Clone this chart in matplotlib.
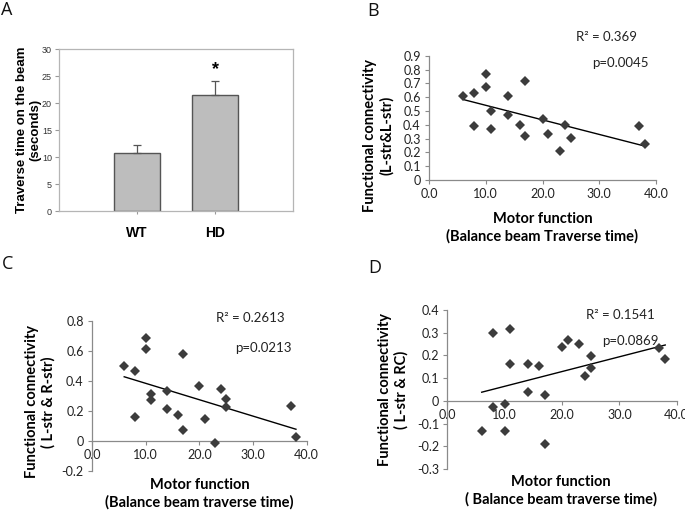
import numpy as np
import matplotlib
matplotlib.use("Agg")
import matplotlib.pyplot as plt
from matplotlib.ticker import FuncFormatter, FixedLocator

# ---------------- data ----------------
groups = ["WT", "HD"]
traverse_mean = [10.8, 21.4]
traverse_err = [1.4, 2.6]

b_x = [6, 8, 8, 10, 10, 11, 11, 14, 14, 16, 17, 17, 20, 21, 23, 24, 25, 37, 38]
b_y = [0.61, 0.63, 0.39, 0.77, 0.67, 0.50, 0.37, 0.61, 0.47, 0.40, 0.72, 0.32,
       0.44, 0.335, 0.21, 0.40, 0.305, 0.39, 0.26]

c_x = [6, 8, 8, 10, 10, 11, 11, 14, 14, 16, 17, 17, 20, 21, 23, 24, 25, 25, 37, 38]
c_y = [0.50, 0.468, 0.159, 0.683, 0.614, 0.31, 0.274, 0.334, 0.212, 0.17, 0.577,
       0.071, 0.367, 0.148, -0.013, 0.343, 0.276, 0.223, 0.23, 0.029]

d_x = [6, 8, 8, 10, 10, 11, 11, 14, 14, 16, 17, 17, 20, 21, 23, 24, 25, 25, 37, 38]
d_y = [-0.134, 0.299, -0.029, -0.013, -0.131, 0.316, 0.162, 0.162, 0.04, 0.153,
       0.026, -0.188, 0.238, 0.268, 0.249, 0.11, 0.199, 0.146, 0.231, 0.184]

b_stats = ["R\u00b2 = 0.369", "p=0.0045"]
c_stats = ["R\u00b2 = 0.2613", "p=0.0213"]
d_stats = ["R\u00b2 = 0.1541", "p=0.0869"]

# ---------------- figure ----------------
W, H = 685, 511
fig = plt.figure(figsize=(W / 100, H / 100), dpi=100)

def rect(l, r, t, b):
    return [l / W, 1 - b / H, (r - l) / W, (b - t) / H]

SANS = ["Lato", "DejaVu Sans"]
ARIAL = ["Liberation Sans", "DejaVu Sans"]
spine_col = "#8a8a8a"
mark_col = "#3c3c3c"

def fmt(v, pos):
    if abs(v) < 1e-9:
        return "0"
    return f"{v:.1f}"

# ---------------- Panel A ----------------
axA = fig.add_axes(rect(59, 293, 49, 211))
xa = np.arange(len(groups))
axA.bar(xa, traverse_mean, width=0.6, color="#bdbdbd", edgecolor="#555555",
        linewidth=1.0, zorder=2)
axA.errorbar(xa, traverse_mean, yerr=[[0, 0], traverse_err], fmt="none",
             ecolor="#555555", elinewidth=0.9, capsize=3, capthick=0.9, zorder=3)
axA.set_xlim(-1, 2)
axA.set_ylim(0, 30)
axA.set_yticks([0, 5, 10, 15, 20, 25, 30])
axA.set_xticks(xa)
axA.set_xticklabels(groups, fontfamily=ARIAL, fontweight="bold", fontsize=10)
for s in axA.spines.values():
    s.set_color("#b5b5b5")
    s.set_linewidth(0.9)
axA.tick_params(axis="y", direction="out", length=3, width=0.8, color="#999999",
                labelsize=6.5, pad=2)
axA.tick_params(axis="x", direction="out", length=2.5, width=0.8, color="#999999", pad=8)
for t in axA.get_yticklabels():
    t.set_fontfamily(ARIAL)
    t.set_color("#333333")
axA.set_ylabel("Traverse time on the beam\n(seconds)", fontfamily=ARIAL,
               fontweight="bold", fontsize=9.5, linespacing=1.1)
axA.yaxis.set_label_coords((41 - 59) / 234, 0.5)
axA.text(1, traverse_mean[1] + traverse_err[1] + 2.2, "*", ha="center", va="center",
         fontsize=13, fontweight="bold", fontfamily=ARIAL)

# ---------------- scatter panel helper ----------------
def scatter_panel(ax, x, y, ylim, yticks, stats, stat_pos, ylabel, ylab_pos,
                  xlabel, xlab_pos):
    x = np.asarray(x, float)
    y = np.asarray(y, float)
    ax.plot(x, y, linestyle="none", marker="D", markersize=5, color=mark_col,
            markeredgewidth=0, zorder=3, clip_on=False)
    k, b0 = np.polyfit(x, y, 1)
    xl = np.array([x.min(), x.max()])
    ax.plot(xl, k * xl + b0, color="black", linewidth=1.0, zorder=2)
    ax.set_xlim(0, 40)
    ax.set_ylim(*ylim)
    ax.spines["top"].set_visible(False)
    ax.spines["right"].set_visible(False)
    ax.spines["bottom"].set_position(("data", 0))
    for s in ("left", "bottom"):
        ax.spines[s].set_color(spine_col)
        ax.spines[s].set_linewidth(0.9)
    ax.xaxis.set_major_locator(FixedLocator([0, 10, 20, 30, 40]))
    ax.yaxis.set_major_locator(FixedLocator(yticks))
    ax.xaxis.set_major_formatter(FuncFormatter(lambda v, p: f"{v:.1f}"))
    ax.yaxis.set_major_formatter(FuncFormatter(fmt))
    ax.tick_params(axis="both", direction="out", length=3, width=0.8,
                   color=spine_col, labelsize=9, labelcolor="#222222", pad=3)
    for t in ax.get_xticklabels() + ax.get_yticklabels():
        t.set_fontfamily(SANS)
    ax.set_ylabel(ylabel, fontfamily=SANS, fontweight="bold", fontsize=10.5,
                  linespacing=1.25)
    ax.yaxis.set_label_coords(*ylab_pos)
    ax.text(xlab_pos[0], xlab_pos[1], xlabel, transform=ax.transAxes, ha="center",
            va="center", fontfamily=SANS, fontweight="bold", fontsize=10.5,
            linespacing=1.3)
    for s, (px, py) in zip(stats, stat_pos):
        ax.text(px, py, s, transform=ax.transAxes, ha="center", va="center",
                fontfamily=SANS, fontsize=9.5, color="#222222")

# ---------------- Panel B ----------------
axB = fig.add_axes(rect(429, 656, 55.7, 180))
scatter_panel(axB, b_x, b_y, (0, 0.9),
              [0, 0.1, 0.2, 0.3, 0.4, 0.5, 0.6, 0.7, 0.8, 0.9], b_stats,
              [((607 - 429) / 227, 1 + (55.7 - 37) / 124.3),
               ((620 - 429) / 227, 1 - (63 - 55.7) / 124.3)],
              "Functional connectivity\n(L-str&L-str)", ((394 - 429) / 227, 0.36),
              "Motor function\n(Balance beam Traverse time)",
              (0.5, (180 - 228) / 124.3))

# ---------------- Panel C ----------------
axC = fig.add_axes(rect(92, 306.7, 320.7, 471))
scatter_panel(axC, c_x, c_y, (-0.2, 0.8), [-0.2, 0, 0.2, 0.4, 0.6, 0.8], c_stats,
              [((250 - 92) / 214.7, (471 - 318) / 150.3),
               ((263 - 92) / 214.7, (471 - 348) / 150.3)],
              "Functional connectivity\n( L-str & R-str)", ((56 - 92) / 214.7, 0.46),
              "Motor function\n(Balance beam traverse time)",
              (0.5, (471 - 494) / 150.3))

# ---------------- Panel D ----------------
axD = fig.add_axes(rect(447.3, 676.7, 310, 469))
scatter_panel(axD, d_x, d_y, (-0.3, 0.4),
              [-0.3, -0.2, -0.1, 0, 0.1, 0.2, 0.3, 0.4], d_stats,
              [((620 - 447.3) / 229.4, (469 - 315) / 159),
               ((630 - 447.3) / 229.4, (469 - 341) / 159)],
              "Functional connectivity\n( L-str & RC)", ((409 - 447.3) / 229.4, 0.5),
              "Motor function\n( Balance beam traverse time)",
              (0.495, (469 - 491) / 159))

# ---------------- panel letters ----------------
for lab, px, py in [("A", 7, 10), ("B", 373, 11), ("C", 8, 264), ("D", 375, 268)]:
    fig.text(px / W, 1 - py / H, lab, ha="center", va="center",
             fontfamily=["Open Sans", "DejaVu Sans"], fontsize=13, color="#111111")

fig.savefig("out.png", dpi=100)
